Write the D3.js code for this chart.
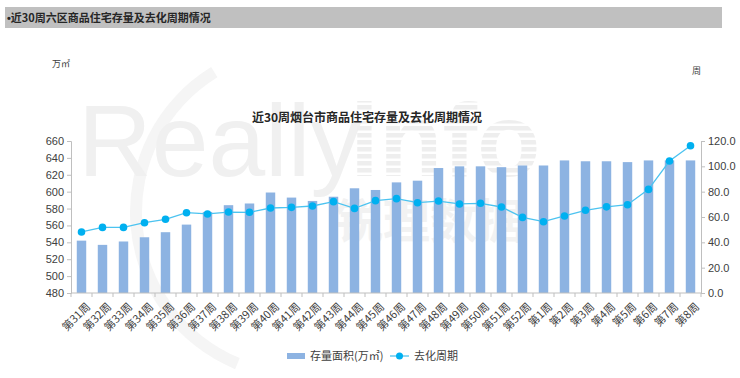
<!DOCTYPE html>
<html lang="zh">
<head>
<meta charset="UTF-8">
<title>近30周烟台市商品住宅存量及去化周期情况</title>
<script src="https://cdnjs.cloudflare.com/ajax/libs/d3/7.8.5/d3.min.js"></script>
<style>
  body { margin: 0; background: #fff; font-family: "Noto Sans CJK SC", "Liberation Sans", sans-serif; }
  svg text { fill: #404040; }
</style>
</head>
<body>
<div id="chart"></div>
<script>
var weeks = ["第31周","第32周","第33周","第34周","第35周","第36周","第37周","第38周","第39周","第40周",
             "第41周","第42周","第43周","第44周","第45周","第46周","第47周","第48周","第49周","第50周",
             "第51周","第52周","第1周","第2周","第3周","第4周","第5周","第6周","第7周","第8周"];
var stock = [542, 537, 541, 546, 552, 561, 576, 584, 586, 599,
             593, 589, 594, 604, 602, 611, 613, 628, 630, 630,
             629, 631, 631, 637, 636, 636, 635, 637, 637, 637];
var cycle = [48.2, 51.8, 51.8, 55.5, 58.2, 63.4, 62.4, 63.9, 63.7, 67.1,
             67.6, 68.7, 72.1, 66.8, 72.9, 74.5, 71.3, 72.6, 70.3, 70.8,
             67.9, 59.7, 56.3, 60.8, 65.3, 68.0, 69.7, 81.8, 104.2, 116.3];
var leftTicks = [480, 500, 520, 540, 560, 580, 600, 620, 640, 660];
var rightTicks = [0, 20, 40, 60, 80, 100, 120];

var W = 740, H = 378;
var m = { left: 71, right: 701, top: 141, bottom: 293 };

var svg = d3.select("#chart").append("svg").attr("width", W).attr("height", H);

// striped fill for the watermark "info"
var pat = svg.append("defs").append("pattern").attr("id", "stripes")
  .attr("patternUnits", "userSpaceOnUse").attr("width", 8).attr("height", 7);
pat.append("rect").attr("width", 8).attr("height", 4.5).attr("fill", "#eeeeee");

// header bar
svg.append("rect").attr("x", 5).attr("y", 7).attr("width", 717).attr("height", 21).attr("fill", "#c0c0c0");
var head = svg.append("text").attr("x", 7).attr("y", 21.5).attr("font-size", 11).attr("font-weight", "bold")
  .style("fill", "#262626");
head.append("tspan").attr("font-family", "Liberation Sans").text("•");
head.append("tspan").text("近30周六区商品住宅存量及去化周期情况");

// watermark
var wm = svg.append("g");
var arc = d3.arc().innerRadius(158).outerRadius(170).startAngle(-0.55).endAngle(-2.75);
wm.append("path").attr("d", arc()).attr("transform", "translate(300,212)").attr("fill", "#f5f5f5");
wm.append("text").attr("x", 78).attr("y", 176).attr("font-size", 102).attr("font-family", "Liberation Sans")
  .style("fill", "#f0f0f0").text("Really");
wm.append("text").attr("x", 350).attr("y", 176).attr("font-size", 104).attr("font-family", "Liberation Sans")
  .attr("font-weight", "bold").style("fill", "url(#stripes)").text("info");
wm.append("text").attr("x", 336).attr("y", 238).attr("font-size", 47).attr("font-weight", "bold")
  .style("fill", "#f2f2f2").text("锐理数据");

// title and units
svg.append("text").attr("x", 367).attr("y", 122).attr("text-anchor", "middle")
  .attr("font-size", 12).attr("font-weight", "bold").style("fill", "#262626")
  .text("近30周烟台市商品住宅存量及去化周期情况");
svg.append("text").attr("x", 52).attr("y", 67).attr("font-size", 9).text("万㎡");
svg.append("text").attr("x", 692).attr("y", 74).attr("font-size", 9).text("周");

var x = d3.scaleBand().domain(weeks).range([m.left, m.right]).paddingInner(0.55).paddingOuter(0.275);
var yL = d3.scaleLinear().domain([480, 660]).range([m.bottom, m.top]);
var yR = d3.scaleLinear().domain([0, 120]).range([m.bottom, m.top]);

// bars
svg.append("g").selectAll("rect").data(stock).enter().append("rect")
  .attr("x", function(d, i) { return x(weeks[i]); })
  .attr("width", x.bandwidth())
  .attr("y", function(d) { return yL(d); })
  .attr("height", function(d) { return m.bottom - yL(d); })
  .attr("fill", "#8db3e2");

// axes
var axisColor = "#bfbfbf";
function styleAxis(g) {
  g.select(".domain").attr("stroke", axisColor);
  g.selectAll(".tick line").attr("stroke", axisColor);
  g.selectAll(".tick text").attr("font-size", 11).style("fill", "#404040")
    .attr("font-family", "Liberation Sans, sans-serif");
}
svg.append("g").attr("transform", "translate(" + m.left + ",0)")
  .call(d3.axisLeft(yL).tickValues(leftTicks).tickSize(4).tickSizeOuter(4).tickPadding(3))
  .call(styleAxis);
svg.append("g").attr("transform", "translate(" + m.right + ",0)")
  .call(d3.axisRight(yR).tickValues(rightTicks).tickFormat(d3.format(".1f")).tickSize(4).tickSizeOuter(4).tickPadding(3))
  .call(styleAxis);

var xStep = x.step();
var xg = svg.append("g").attr("transform", "translate(0," + m.bottom + ")");
xg.append("line").attr("x1", m.left).attr("x2", m.right).attr("stroke", axisColor);
xg.selectAll("line.t").data(d3.range(weeks.length + 1)).enter().append("line")
  .attr("class", "t")
  .attr("x1", function(d) { return m.left + d * xStep; })
  .attr("x2", function(d) { return m.left + d * xStep; })
  .attr("y1", 0).attr("y2", 4).attr("stroke", axisColor);
xg.selectAll("text").data(weeks).enter().append("text")
  .attr("font-size", 11)
  .attr("text-anchor", "end")
  .attr("transform", function(d) {
    return "translate(" + (x(d) + x.bandwidth() / 2 + 4) + ",9) rotate(-45)";
  })
  .attr("dy", "0.7em")
  .text(function(d) { return d; });

// line
var line = d3.line()
  .x(function(d, i) { return x(weeks[i]) + x.bandwidth() / 2; })
  .y(function(d) { return yR(d); });
svg.append("path").datum(cycle).attr("d", line)
  .attr("fill", "none").attr("stroke", "#4cc3f0").attr("stroke-width", 1.3);
svg.append("g").selectAll("circle").data(cycle).enter().append("circle")
  .attr("cx", function(d, i) { return x(weeks[i]) + x.bandwidth() / 2; })
  .attr("cy", function(d) { return yR(d); })
  .attr("r", 3.8).attr("fill", "#00b0f0");

// legend
var lg = svg.append("g").attr("transform", "translate(287,356)");
lg.append("rect").attr("x", 0).attr("y", -3).attr("width", 18).attr("height", 6).attr("fill", "#8db3e2");
lg.append("text").attr("x", 23).attr("y", 4).attr("font-size", 11).text("存量面积(万㎡)");
lg.append("line").attr("x1", 103).attr("x2", 122).attr("y1", 0).attr("y2", 0)
  .attr("stroke", "#4cc3f0").attr("stroke-width", 1.3);
lg.append("circle").attr("cx", 112.5).attr("cy", 0).attr("r", 3.5).attr("fill", "#00b0f0");
lg.append("text").attr("x", 127).attr("y", 4).attr("font-size", 11).text("去化周期");
</script>
</body>
</html>
